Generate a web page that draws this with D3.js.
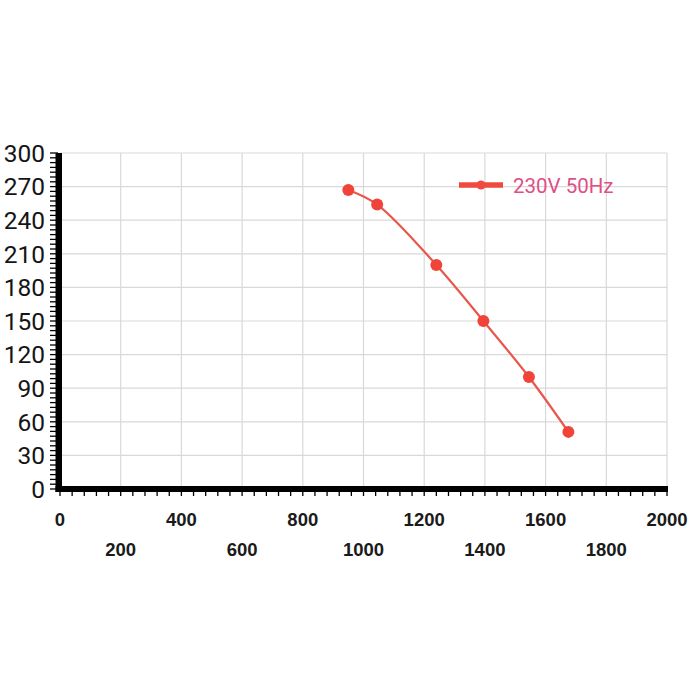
<!DOCTYPE html>
<html>
<head>
<meta charset="utf-8">
<script src="https://cdn.jsdelivr.net/npm/d3@7"></script>
<style>
html,body{margin:0;padding:0;background:#fff;}
svg{display:block;}
</style>
</head>
<body>
<svg id="chart" width="700" height="700"></svg>
<script>
const airflow = [950, 1045, 1240, 1395, 1545, 1675];
const pressure = [267, 254, 200, 150, 100, 51];
const seriesName = "230V 50Hz";
const xTickValues = [0, 200, 400, 600, 800, 1000, 1200, 1400, 1600, 1800, 2000];
const yTickValues = [0, 30, 60, 90, 120, 150, 180, 210, 240, 270, 300];

(function () {
const svg = d3.select("#chart");
const pLeft = 60, pRight = 667, pTop = 153, pBottom = 489;
const x = d3.scaleLinear().domain([0, 2000]).range([pLeft, pRight]);
const y = d3.scaleLinear().domain([0, 300]).range([pBottom, pTop]);

// grid
const grid = svg.append("g").attr("stroke", "#d9d9d9").attr("stroke-width", 1.2);
grid.selectAll("line.h").data(yTickValues.filter(d => d > 0)).join("line")
  .attr("x1", pLeft).attr("x2", pRight).attr("y1", d => y(d)).attr("y2", d => y(d));
grid.selectAll("line.v").data(xTickValues.filter(d => d > 0)).join("line")
  .attr("y1", pTop).attr("y2", pBottom).attr("x1", d => x(d)).attr("x2", d => x(d));

// minor ticks y
const yMinor = d3.range(0, 71).map(i => i * 30 / 7);
svg.append("g").selectAll("line").data(yMinor).join("line")
  .attr("x1", 50).attr("x2", 58).attr("y1", d => y(d)).attr("y2", d => y(d))
  .attr("stroke", "#000").attr("stroke-width", 1.3);
// minor ticks x
const xMinor = d3.range(0, 51).map(i => i * 40);
svg.append("g").selectAll("line").data(xMinor).join("line")
  .attr("y1", 488).attr("y2", 496).attr("x1", d => x(d)).attr("x2", d => x(d))
  .attr("stroke", "#000").attr("stroke-width", 1.3);

// thick axis lines
svg.append("rect").attr("x", 55.5).attr("y", pTop).attr("width", 6.5).attr("height", pBottom - pTop + 3).attr("fill", "#000");
svg.append("rect").attr("x", 55.5).attr("y", 486).attr("width", pRight - 55.5 + 1).attr("height", 6).attr("fill", "#000");

// y labels
svg.append("g").selectAll("text").data(yTickValues).join("text")
  .attr("x", 45).attr("y", d => y(d)).attr("dy", "0.36em")
  .attr("text-anchor", "end")
  .attr("font-family", "Roboto, 'Liberation Sans', sans-serif")
  .attr("font-size", 24.5).attr("fill", "#151515")
  .text(d => d);

// x labels (alternating rows)
svg.append("g").selectAll("text").data(xTickValues).join("text")
  .attr("x", d => x(d)).attr("y", (d, i) => i % 2 === 0 ? 526 : 556)
  .attr("text-anchor", "middle")
  .attr("font-family", "'Liberation Sans', Arial, sans-serif")
  .attr("font-weight", "bold")
  .attr("font-size", 18.5).attr("fill", "#1a1a1a")
  .text(d => d);

// series line
const pts = airflow.map((v, i) => [v, pressure[i]]);
const line = d3.line().x(d => x(d[0])).y(d => y(d[1])).curve(d3.curveCatmullRom.alpha(0.5));
svg.append("path").datum(pts).attr("d", line)
  .attr("fill", "none").attr("stroke", "#e8574c").attr("stroke-width", 2.2);
svg.append("g").selectAll("circle").data(pts).join("circle")
  .attr("cx", d => x(d[0])).attr("cy", d => y(d[1])).attr("r", 6)
  .attr("fill", "#f0443a");

// legend
const lg = svg.append("g");
lg.append("line").attr("x1", 459).attr("x2", 503).attr("y1", 185).attr("y2", 185)
  .attr("stroke", "#ee4a40").attr("stroke-width", 5.5);
lg.append("circle").attr("cx", 481).attr("cy", 185).attr("r", 4.5).attr("fill", "#ee4a40");
lg.append("text").attr("x", 513).attr("y", 186).attr("dy", "0.36em")
  .attr("font-family", "Roboto, 'Liberation Sans', sans-serif")
  .attr("font-size", 20.5).attr("fill", "#de4f86")
  .text(seriesName);
})();
</script>
</body>
</html>
